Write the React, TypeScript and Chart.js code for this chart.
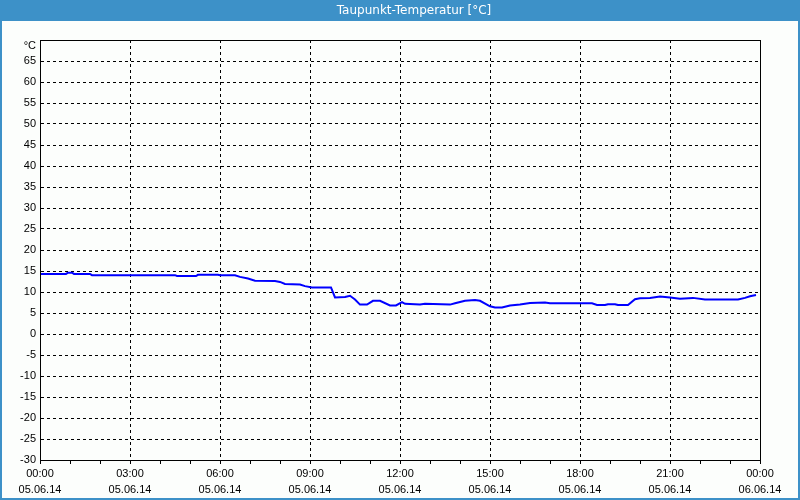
import { useEffect, useRef } from 'react';
import { Chart, registerables } from 'chart.js';

Chart.register(...registerables);

const chartTitle = 'Taupunkt-Temperatur [°C]';
const unitLabel = '°C';

const times = [
  '00:00', '00:20', '00:40', '00:52', '00:56', '01:04', '01:08', '01:40', '01:44',
  '03:00', '04:30', '04:34', '05:12', '05:16', '05:56', '06:00', '06:30', '06:40',
  '06:56', '07:10', '07:50', '08:00', '08:10', '08:40', '08:50', '09:04', '09:42',
  '09:50', '10:10', '10:20', '10:30', '10:40', '10:54', '11:06', '11:20', '11:40',
  '11:52', '12:04', '12:10', '12:40', '12:50', '13:40', '13:50', '14:10', '14:30',
  '14:40', '15:00', '15:10', '15:24', '15:40', '16:00', '16:20', '16:50', '17:00',
  '18:24', '18:34', '18:50', '18:56', '19:10', '19:16', '19:36', '19:50', '20:00',
  '20:20', '20:40', '21:00', '21:20', '21:46', '22:10', '23:16', '23:30', '23:40',
  '23:52',
];

const dewPoint = [
  14.3, 14.3, 14.3, 14.3, 14.6, 14.6, 14.3, 14.3, 14.0,
  14.0, 14.0, 13.8, 13.8, 14.1, 14.1, 14.0, 14.0, 13.6,
  13.2, 12.7, 12.6, 12.4, 11.9, 11.8, 11.4, 11.1, 11.1,
  8.7, 8.8, 9.1, 8.2, 7.0, 7.0, 7.9, 7.9, 6.8,
  6.8, 7.6, 7.2, 7.0, 7.2, 7.0, 7.3, 7.9, 8.1,
  7.9, 6.6, 6.3, 6.3, 6.8, 7.0, 7.4, 7.5, 7.3,
  7.3, 6.9, 6.9, 7.1, 7.1, 6.9, 6.9, 8.3, 8.5,
  8.6, 8.9, 8.7, 8.4, 8.6, 8.2, 8.2, 8.6, 9.0,
  9.3,
];

const xTickTimes = ['00:00', '03:00', '06:00', '09:00', '12:00', '15:00', '18:00', '21:00', '00:00'];
const xTickDates = ['05.06.14', '05.06.14', '05.06.14', '05.06.14', '05.06.14', '05.06.14', '05.06.14', '05.06.14', '06.06.14'];

const yMin = -30;
const yMax = 70;
const yStep = 5;
const xHours = 24;

const toHours = (t: string) => {
  const [h, m] = t.split(':').map(Number);
  return h + m / 60;
};

const FONT = '"Liberation Sans", Arial, sans-serif';
const TITLE_FONT = '"DejaVu Sans", Verdana, sans-serif';

const framePlugin = {
  id: 'frame',
  beforeDraw(chart: any) {
    const { ctx, width, height } = chart;
    ctx.save();
    ctx.fillStyle = '#FCFEFC';
    ctx.fillRect(0, 0, width, height);
    ctx.fillStyle = '#3D91C8';
    ctx.fillRect(0, 0, width, 21);
    ctx.fillRect(0, 0, 2, height);
    ctx.fillRect(width - 2, 0, 2, height);
    ctx.fillRect(0, height - 2, width, 2);
    ctx.fillStyle = '#FFFFFF';
    ctx.font = `12px ${TITLE_FONT}`;
    ctx.textAlign = 'center';
    ctx.textBaseline = 'middle';
    ctx.fillText(chartTitle, 414, 10.5);
    ctx.restore();
  },
  afterDraw(chart: any) {
    const { ctx, chartArea: a } = chart;
    ctx.save();
    ctx.strokeStyle = '#000';
    ctx.lineWidth = 1;
    ctx.setLineDash([]);
    ctx.strokeRect(
      Math.round(a.left) + 0.5,
      Math.round(a.top) + 0.5,
      Math.round(a.right - a.left),
      Math.round(a.bottom - a.top)
    );
    const y = chart.scales.y.getPixelForValue(yMax);
    ctx.fillStyle = '#000';
    ctx.font = `11px ${FONT}`;
    ctx.textAlign = 'right';
    ctx.textBaseline = 'middle';
    ctx.fillText(unitLabel, a.left - 4, y + 6);
    ctx.restore();
  },
};

export default function App() {
  const ref = useRef<HTMLCanvasElement | null>(null);

  useEffect(() => {
    if (!ref.current) return;
    const chart = new Chart(ref.current, {
      type: 'line',
      data: {
        datasets: [
          {
            data: times.map((t, i) => ({ x: toHours(t), y: dewPoint[i] })),
            borderColor: '#0000FF',
            borderWidth: 2,
            pointRadius: 0,
            tension: 0,
            fill: false,
          },
        ],
      },
      options: {
        animation: false,
        responsive: false,
        maintainAspectRatio: false,
        layout: { padding: { left: 0, right: 40, top: 40, bottom: 0 } },
        plugins: {
          legend: { display: false },
          tooltip: { enabled: false },
          title: { display: false },
        },
        scales: {
          x: {
            type: 'linear',
            min: 0,
            max: xHours,
            afterFit: (s: any) => {
              s.height = 40;
            },
            afterBuildTicks: (s: any) => {
              s.ticks = Array.from({ length: xHours + 1 }, (_, i) => ({ value: i }));
            },
            ticks: {
              stepSize: 1,
              autoSkip: false,
              maxRotation: 0,
              minRotation: 0,
              color: '#000',
              padding: 2,
              font: { family: FONT, size: 11, lineHeight: 1.45 },
              callback: (v: any) => {
                const n = Number(v);
                return n % 3 === 0 ? [xTickTimes[n / 3], xTickDates[n / 3]] : '';
              },
            },
            grid: {
              color: (ctx: any) => (ctx.tick && ctx.tick.value % 3 === 0 ? '#000' : 'rgba(0,0,0,0)'),
              tickColor: '#000',
              tickLength: 4,
              lineWidth: 1,
              tickBorderDash: [],
            },
            border: { display: true, color: '#000', width: 1, dash: [3, 3] },
          },
          y: {
            min: yMin,
            max: yMax,
            afterFit: (s: any) => {
              s.width = 40;
            },
            ticks: {
              stepSize: yStep,
              color: '#000',
              padding: 4,
              font: { family: FONT, size: 11 },
              callback: (v: any) => (Number(v) === yMax ? '' : String(v)),
            },
            grid: { color: '#000', drawTicks: false, lineWidth: 1 },
            border: { display: true, color: '#000', width: 1, dash: [3, 3] },
          },
        },
      },
      plugins: [framePlugin],
    } as any);
    return () => chart.destroy();
  }, []);

  return (
    <div style={{ position: 'absolute', left: 0, top: 0, width: 800, height: 500 }}>
      <canvas ref={ref} width={800} height={500} />
    </div>
  );
}
